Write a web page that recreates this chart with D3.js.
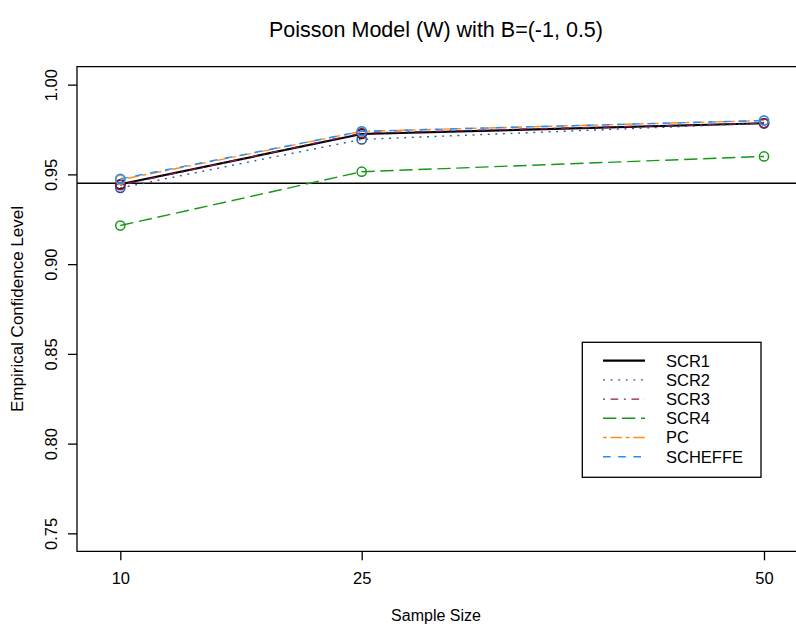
<!DOCTYPE html>
<html>
<head>
<meta charset="utf-8">
<script src="https://cdn.jsdelivr.net/npm/d3@7"></script>
<style>
  html, body { margin: 0; padding: 0; background: #fff; overflow: hidden; }
  svg { display: block; overflow: hidden; font-family: "Liberation Sans", Arial, sans-serif; }
</style>
</head>
<body>
<svg id="chart" width="796" height="629"></svg>
<script>
// Sample sizes on the x axis
const sampleSizes = [10, 25, 50];
const xTickLabels = ["10", "25", "50"];
const yTicks = [0.75, 0.80, 0.85, 0.90, 0.95, 1.00];
const nominalLevel = 0.945;

// Empirical confidence level per method
const seriesNames = ["SCR1", "SCR2", "SCR3", "SCR4", "PC", "SCHEFFE"];
const scr1 = [0.9445, 0.9725, 0.9785];
const scr2 = [0.9425, 0.9695, 0.9785];
const scr3 = [0.9440, 0.9730, 0.9785];
const scr4 = [0.9215, 0.9515, 0.9600];
const pc = [0.9470, 0.9740, 0.9800];
const scheffe = [0.9475, 0.9740, 0.9800];
const seriesValues = [scr1, scr2, scr3, scr4, pc, scheffe];

// Drawing styles: solid, dotted, dotdash, longdash, twodash, dashed
const u = 1.9;
const colors = ["#000000", "#2C5499", "#8B1A4A", "#159915", "#FF8C1A", "#1E90FF"];
const dashes = [null,
  [u, 3 * u], [u, 3 * u, 4 * u, 3 * u], [7 * u, 3 * u],
  [2 * u, 2 * u, 6 * u, 2 * u], [4 * u, 4 * u]].map(d => d && d.join(","));
const widths = [2.2, 1.4, 1.4, 1.4, 1.4, 1.4];

const svg = d3.select("#chart");
// plot region; its right side lies past the edge of the canvas
const box = { left: 77, right: 807, top: 66.7, bottom: 551.3 };
const midX = (box.left + box.right) / 2;

const x = d3.scaleLinear().domain([10, 50]).range([120.3, 764]);
const y = d3.scaleLinear().domain([0.74, 1.01]).range([box.bottom, box.top]);

// Title
svg.append("text")
  .attr("x", midX - 6).attr("y", 37)
  .attr("text-anchor", "middle")
  .attr("font-size", 21.5)
  .text("Poisson Model (W) with B=(-1, 0.5)");

// Axes
const xAxis = d3.axisBottom(x).tickValues(sampleSizes)
  .tickFormat((d, i) => xTickLabels[i]).tickSize(9).tickPadding(12);
const gx = svg.append("g").attr("transform", `translate(0,${box.bottom})`).call(xAxis);
gx.select(".domain").remove();
gx.selectAll("line").attr("stroke", "#000").attr("stroke-width", 1.3);
gx.selectAll("text").attr("font-size", 16.5).attr("fill", "#000");

const yAxis = d3.axisLeft(y).tickValues(yTicks)
  .tickFormat(d3.format(".2f")).tickSize(9).tickPadding(0);
const gy = svg.append("g").attr("transform", `translate(${box.left},0)`).call(yAxis);
gy.select(".domain").remove();
gy.selectAll("line").attr("stroke", "#000").attr("stroke-width", 1.3);
// tick labels read bottom-to-top, parallel to the axis
gy.selectAll("text")
  .attr("font-size", 16.5).attr("fill", "#000")
  .attr("text-anchor", "middle").attr("dy", null)
  .attr("x", 0).attr("y", 0)
  .attr("transform", "translate(-20,0) rotate(-90)");

// Plot frame: top, left and bottom edges
const frame = d3.path();
frame.moveTo(box.right, box.top);
frame.lineTo(box.left, box.top);
frame.lineTo(box.left, box.bottom);
frame.lineTo(box.right, box.bottom);
svg.append("path")
  .attr("d", frame.toString())
  .attr("fill", "none").attr("stroke", "#000").attr("stroke-width", 1.3);

// Axis titles
svg.append("text")
  .attr("x", midX - 6).attr("y", 621)
  .attr("text-anchor", "middle").attr("font-size", 16)
  .text("Sample Size");
svg.append("text")
  .attr("transform", `translate(23,${(box.top + box.bottom) / 2}) rotate(-90)`)
  .attr("text-anchor", "middle").attr("font-size", 17)
  .text("Empirical Confidence Level");

// Reference level
svg.append("line")
  .attr("x1", box.left).attr("x2", box.right)
  .attr("y1", y(nominalLevel)).attr("y2", y(nominalLevel))
  .attr("stroke", "#000").attr("stroke-width", 1.5);

// Series lines and point markers
const line = d3.line().x((d, i) => x(sampleSizes[i])).y(d => y(d));
seriesValues.forEach((vals, k) => {
  svg.append("path")
    .attr("d", line(vals))
    .attr("fill", "none")
    .attr("stroke", colors[k])
    .attr("stroke-width", widths[k])
    .attr("stroke-dasharray", dashes[k]);
  svg.selectAll(null).data(vals).enter().append("circle")
    .attr("cx", (d, i) => x(sampleSizes[i]))
    .attr("cy", d => y(d))
    .attr("r", 4.6)
    .attr("fill", "none")
    .attr("stroke", colors[k])
    .attr("stroke-width", 1.5);
});

// Legend
const lg = { left: 582.3, top: 342.3, right: 761, bottom: 477.3 };
svg.append("rect")
  .attr("x", lg.left).attr("y", lg.top)
  .attr("width", lg.right - lg.left).attr("height", lg.bottom - lg.top)
  .attr("fill", "#fff").attr("stroke", "#000").attr("stroke-width", 1.3);
const rowY = d3.scaleLinear().domain([0, 5]).range([360.7, 456.7]);
seriesNames.forEach((name, k) => {
  svg.append("line")
    .attr("x1", 603).attr("x2", 645)
    .attr("y1", rowY(k)).attr("y2", rowY(k))
    .attr("stroke", colors[k])
    .attr("stroke-width", widths[k])
    .attr("stroke-dasharray", dashes[k]);
  svg.append("text")
    .attr("x", 666).attr("y", rowY(k)).attr("dy", "0.36em")
    .attr("font-size", 16.5)
    .text(name);
});
</script>
</body>
</html>
